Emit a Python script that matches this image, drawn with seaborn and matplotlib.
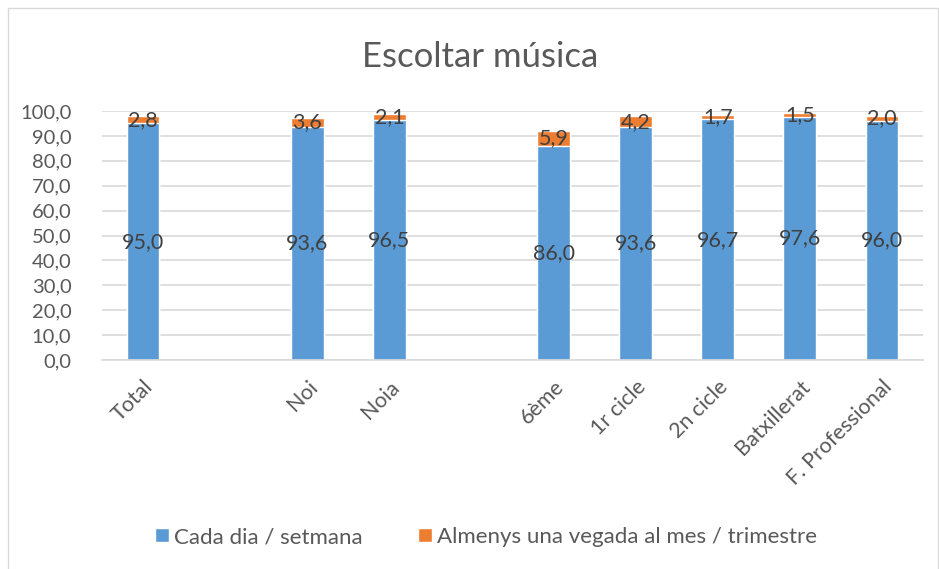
import numpy as np
import pandas as pd
import matplotlib.pyplot as plt
import seaborn as sns
from matplotlib.patches import Rectangle, Patch

# --- data ---
categories = ["Total", " ", "Noi", "Noia", "  ", "6ème", "1r cicle", "2n cicle", "Batxillerat", "F. Professional"]
daily = [95.0, np.nan, 93.6, 96.5, np.nan, 86.0, 93.6, 96.7, 97.6, 96.0]
monthly = [2.8, np.nan, 3.6, 2.1, np.nan, 5.9, 4.2, 1.7, 1.5, 2.0]
series_names = ["Cada dia / setmana", "Almenys una vegada al mes / trimestre"]

blue = "#5B9BD5"
orange = "#ED7D31"
grey_text = "#595959"

df = pd.DataFrame({"cat": categories, "daily": daily, "monthly": monthly})
df["total"] = df["daily"] + df["monthly"]

sns.set_style("white")
plt.rcParams["font.family"] = ["Lato", "DejaVu Sans"]

fig = plt.figure(figsize=(9.39, 5.69), dpi=100)
ax = fig.add_axes([0.1086, 0.367, 0.8744, 0.438])

# stacked bars: total (orange) underneath, daily (blue) on top
sns.barplot(data=df, x="cat", y="total", order=categories, color=orange,
            width=0.4, errorbar=None, saturation=1, ax=ax)
sns.barplot(data=df, x="cat", y="daily", order=categories, color=blue,
            width=0.4, errorbar=None, saturation=1, ax=ax)

def comma(v):
    return f"{v:.1f}".replace(".", ",")

# labels for blue segments
ax.bar_label(ax.containers[1], fmt=comma, label_type="center",
             fontsize=15.5, color="#404040")

# labels for orange segments
for bar in ax.containers[0]:
    i = int(round(bar.get_x() + bar.get_width() / 2))
    ax.text(i, daily[i] + monthly[i] / 2, comma(monthly[i]),
            ha="center", va="center", fontsize=15.5, color="#404040")

ax.set_ylim(0, 100)
ax.set_yticks(np.arange(0, 101, 10))
ax.set_yticklabels([comma(v) for v in np.arange(0, 101, 10)])
ax.set_xlim(-0.5, len(categories) - 0.5)
ax.set_xticks(range(len(categories)))
ax.set_xticklabels(categories, rotation=45, ha="right", rotation_mode="anchor")
ax.tick_params(axis="both", length=0, labelcolor=grey_text)
ax.tick_params(axis="x", pad=12, labelsize=15.5)
ax.tick_params(axis="y", pad=22, labelsize=14.5)
ax.set_xlabel("")
ax.set_ylabel("")

ax.grid(axis="y", color="#D9D9D9", linewidth=1.2)
ax.set_axisbelow(True)
for s in ["left", "right", "top"]:
    ax.spines[s].set_visible(False)
ax.spines["bottom"].set_color("#D9D9D9")
ax.spines["bottom"].set_linewidth(1.2)

fig.text(0.511, 0.9, "Escoltar música", ha="center", va="center",
         fontsize=25, color=grey_text)

handles = [Patch(facecolor=blue), Patch(facecolor=orange)]
fig.legend(handles, series_names, loc="center", bbox_to_anchor=(0.518, 0.056),
           ncol=2, frameon=False, fontsize=16, labelcolor=grey_text,
           handlelength=0.6, handleheight=0.6, handletextpad=0.25,
           columnspacing=2.5)

# chart border
fig.patches.append(Rectangle((0.009, -0.01), 0.99, 0.996, transform=fig.transFigure,
                             fill=False, edgecolor="#D9D9D9", linewidth=1))

fig.savefig("out.png", dpi=100)
